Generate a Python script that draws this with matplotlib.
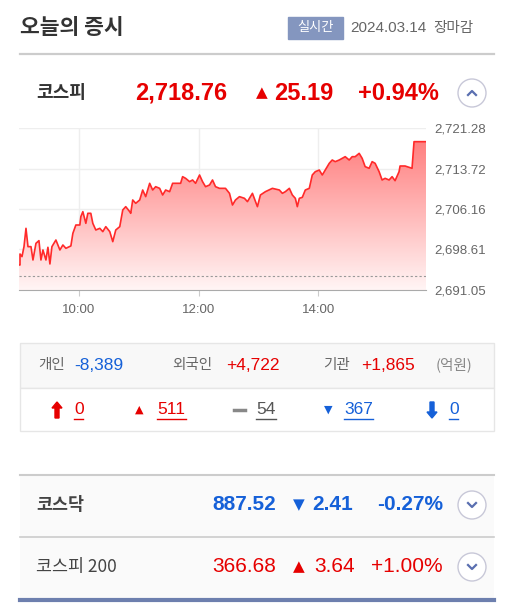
import matplotlib
matplotlib.use("Agg")
import matplotlib.pyplot as plt
import numpy as np
from matplotlib.patches import Rectangle, Circle, PathPatch, Polygon
from matplotlib.path import Path
from matplotlib.colors import LinearSegmentedColormap

plt.rcParams['font.family'] = ['Noto Sans CJK KR', 'DejaVu Sans']
NUM = ['Liberation Sans', 'Noto Sans CJK KR', 'DejaVu Sans']

# ---- data ----
minutes = [1,1,3,5,7,9,12,14,17,20,22,24,27,29,31,33,37,41,44,47,52,54,57,61,62,64,67,69,72,74,77,81,84,87,91,94,97,101,104,107,111,112,114,117,121,124,127,131,134,137,141,144,147,151,154,157,162,164,167,171,174,177,181,184,187,191,194,197,201,207,211,214,217,221,226,229,234,239,242,247,254,261,264,267,271,274,277,279,281,284,287,291,294,297,301,304,307,311,314,317,321,324,327,331,334,337,341,344,347,351,354,357,361,364,367,371,374,377,381,382,387,394,396,408]
zy = [465,432,440,410,355,410,410,450,400,392,450,420,450,412,462,410,390,420,405,415,408,370,345,345,320,305,340,310,310,340,360,355,365,350,365,395,360,350,300,290,305,310,270,280,270,240,260,220,240,230,235,255,240,245,220,220,220,200,205,215,210,220,195,215,230,225,210,230,235,235,250,285,270,260,265,275,250,290,255,245,235,240,250,245,235,255,265,290,265,262,240,235,195,185,180,195,180,160,150,155,150,145,140,150,140,140,130,145,170,175,155,160,185,210,205,210,200,212,185,168,168,175,95,95]
values = [round(2721.28 - (z - 54) / 16.08, 2) for z in zy]
y_ticks = [2691.05, 2698.61, 2706.16, 2713.72, 2721.28]
x_ticks = [60, 180, 300]
x_labels = ["10:00", "12:00", "14:00"]
prev_close = 2693.57

RED = "#e60000"; BLUE = "#1560d8"; GRAY = "#666666"

fig = plt.figure(figsize=(5.16, 6.08), dpi=100)
bg = fig.add_axes([0, 0, 1, 1])
bg.set_xlim(0, 516); bg.set_ylim(608, 0); bg.axis("off")

def T(x, y, s, **kw):
    kw.setdefault("va", "center")
    bg.text(x, y, s, **kw)

# header
T(20, 28, "오늘의 증시", fontsize=15.5, fontweight="heavy", color="#333333")
bg.add_patch(Rectangle((288, 17), 55, 22, color="#8496bf"))
T(315.5, 28, "실시간", fontsize=9.5, color="white", ha="center")
T(350, 28, "2024.03.14", fontsize=11, color=GRAY, family=NUM)
T(433, 28, "장마감", fontsize=10.5, color=GRAY)
bg.plot([20, 494], [54, 54], color="#cccccc", lw=1.6)

# KOSPI row
T(36, 93, "코스피", fontsize=13, fontweight="bold", color="#333333")
T(135, 93, "2,718.76", fontsize=17, fontweight="bold", color=RED, family=NUM)
T(256, 93, "▲", fontsize=11, color=RED, family="DejaVu Sans")
T(274, 93, "25.19", fontsize=17, fontweight="bold", color=RED, family=NUM)
T(358, 93, "+0.94%", fontsize=17, fontweight="bold", color=RED, family=NUM)

def caret(cx, cy, up):
    bg.add_patch(Circle((cx, cy), 14, facecolor="white", edgecolor="#c8c8d8", lw=1))
    if up:
        bg.plot([cx - 4, cx, cx + 4], [cy + 2, cy - 2, cy + 2], color="#5a6fb0", lw=1.6)
    else:
        bg.plot([cx - 4, cx, cx + 4], [cy - 2, cy + 2, cy - 2], color="#5a6fb0", lw=1.6)

caret(472, 93, True)

# chart
ax = fig.add_axes([19 / 516, 1 - 290 / 608, (426 - 19) / 516, (290 - 128) / 608])
ax.set_xlim(0, 408)
ax.set_ylim(2691.05, 2721.28)
ax.set_yticks(y_ticks)
ax.set_yticklabels([f"{v:,.2f}" for v in y_ticks], family=NUM)
ax.set_xticks(x_ticks)
ax.set_xticklabels(x_labels, family=NUM)
ax.yaxis.tick_right()
ax.tick_params(axis="y", length=0, labelsize=9.5, labelcolor=GRAY, pad=6)
ax.tick_params(axis="x", length=4, color="#cccccc", labelsize=9.5, labelcolor=GRAY, pad=6)
for s in ["top", "left", "right"]:
    ax.spines[s].set_visible(False)
ax.spines["bottom"].set_color("#aaaaaa")
ax.grid(True, color="#eeeeee", lw=1)
ax.set_axisbelow(True)
xs = [0] + minutes
ys = [values[0]] + values
verts = [(xs[0], 2691.05)] + list(zip(xs, ys)) + [(xs[-1], 2691.05), (xs[0], 2691.05)]
patch = PathPatch(Path(verts), facecolor="none", edgecolor="none")
ax.add_patch(patch)
grad = np.linspace(0, 1, 256).reshape(-1, 1)
cmap = LinearSegmentedColormap.from_list("g", ["#fff5f5", "#ff7f7f"])
im = ax.imshow(grad, extent=[0, 408, 2691.05, 2718.8], aspect="auto", cmap=cmap, origin="lower", zorder=1)
im.set_clip_path(patch)
ax.plot(xs, ys, color="#ff2a2a", lw=1.2, zorder=3)
ax.axhline(prev_close, color="#999999", lw=0.8, ls=(0, (2, 2)), zorder=2)

# investor box
bg.add_patch(Rectangle((20, 343), 474, 45, facecolor="#f8f8f8", edgecolor="#e6e6e6", lw=1))
bg.add_patch(Rectangle((20, 388), 474, 43, facecolor="white", edgecolor="#e6e6e6", lw=1))
T(38, 365, "개인", fontsize=10.5, color=GRAY)
T(74, 365, "-8,389", fontsize=12.5, color=BLUE, family=NUM)
T(172, 365, "외국인", fontsize=10.5, color=GRAY)
T(226, 365, "+4,722", fontsize=12.5, color=RED, family=NUM)
T(323, 365, "기관", fontsize=10.5, color=GRAY)
T(361, 365, "+1,865", fontsize=12.5, color=RED, family=NUM)
T(436, 365, "(억원)", fontsize=10.5, color="#888888")

def U(x, y, s, color):
    bg.text(x, y, s, fontsize=12.5, color=color, va="center", family=NUM)
    w = {1: 9, 2: 20, 3: 29}[len(s)]
    bg.plot([x, x + w], [y + 9, y + 9], color=color, lw=1)

def arrow(cx, cy, up, color):
    s = -1 if up else 1
    tip = cy + 8 * s
    pts = [(cx, tip), (cx - 5, tip - 6 * s), (cx - 2, tip - 6 * s), (cx - 2, cy - 8 * s),
           (cx + 2, cy - 8 * s), (cx + 2, tip - 6 * s), (cx + 5, tip - 6 * s)]
    bg.add_patch(Polygon(pts, closed=True, color=color))

arrow(57, 410, True, RED)
U(74, 410, "0", RED)
T(135, 410, "▲", fontsize=8, color=RED, family="DejaVu Sans")
U(157, 410, "511", RED)
bg.plot([234, 245], [410, 410], color="#888888", lw=2.5)
U(256, 410, "54", "#555555")
T(324, 410, "▼", fontsize=8, color=BLUE, family="DejaVu Sans")
U(344, 410, "367", BLUE)
arrow(432, 410, False, BLUE)
U(449, 410, "0", BLUE)

# bottom index rows
bg.add_patch(Rectangle((20, 475), 474, 125, facecolor="#fafafa", edgecolor="none"))
bg.plot([20, 494], [475, 475], color="#cccccc", lw=1.5)
bg.plot([20, 494], [537, 537], color="#cccccc", lw=1.2)
bg.plot([20, 494], [600, 600], color="#6d7fae", lw=3)

T(36, 505, "코스닥", fontsize=12.5, fontweight="bold", color="#444444")
T(276, 505, "887.52", fontsize=15, fontweight="bold", color=BLUE, ha="right", family=NUM)
T(293, 505, "▼", fontsize=11, color=BLUE, family="DejaVu Sans")
T(353, 505, "2.41", fontsize=15, fontweight="bold", color=BLUE, ha="right", family=NUM)
T(443, 505, "-0.27%", fontsize=15, fontweight="bold", color=BLUE, ha="right", family=NUM)
caret(472, 505, False)

T(36, 567, "코스피 200", fontsize=12.5, color="#444444")
T(276, 567, "366.68", fontsize=15, color=RED, ha="right", family=NUM)
T(293, 567, "▲", fontsize=11, color=RED, family="DejaVu Sans")
T(355, 567, "3.64", fontsize=15, color=RED, ha="right", family=NUM)
T(443, 567, "+1.00%", fontsize=15, color=RED, ha="right", family=NUM)
caret(472, 567, False)

fig.savefig("out.png", dpi=100)
